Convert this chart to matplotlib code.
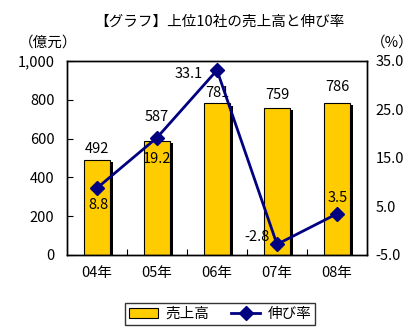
import numpy as np
import matplotlib
matplotlib.use("Agg")
import matplotlib.pyplot as plt
import matplotlib.patheffects as pe
from matplotlib.lines import Line2D
from matplotlib.patches import Patch

plt.rcParams['font.family'] = ['Noto Sans CJK JP', 'DejaVu Sans']

years = ['04年', '05年', '06年', '07年', '08年']
sales = [492, 587, 781, 759, 786]          # 億元
growth = [8.8, 19.2, 33.1, -2.8, 3.5]      # %
# label offsets (pixels)
sales_off = [11, 24, 10, 13, 16]
growth_off = [(1, -17), (0, -21), (-28, -4), (-20, 7), (1, 16)]

W, H = 419, 333
fig = plt.figure(figsize=(W / 100, H / 100), dpi=100)
ax = fig.add_axes([67 / W, 1 - 255 / H, 300 / W, 194 / H])
ax2 = ax.twinx()

x = np.arange(len(years))
bars = ax.bar(x, sales, width=0.42, color='#FFCC00', edgecolor='black', linewidth=0.8,
              zorder=2)
for b in bars:
    b.set_path_effects([pe.SimplePatchShadow(offset=(2.2, -1.5), shadow_rgbFace='black', alpha=1),
                        pe.Normal()])
for xi, v, off in zip(x, sales, sales_off):
    ax.annotate(str(v), (xi, v), xytext=(0, off), textcoords='offset pixels',
                ha='center', va='center', fontsize=10.5)

ax.set_xlim(-0.5, 4.5)
ax.set_ylim(0, 1000)
ax.set_yticks(range(0, 1001, 200))
ax.set_yticklabels([f'{v:,}' for v in range(0, 1001, 200)], fontsize=10.5)
ax.set_xticks(x)
ax.set_xticklabels(years, fontsize=10.5)
ax.set_xticks(np.arange(0.5, 4.5, 1), minor=True)
ax.tick_params(axis='x', which='major', length=0, pad=8)
ax.tick_params(axis='x', which='minor', direction='in', length=4, width=0.8)
ax.tick_params(axis='y', direction='in', length=4, width=0.8, pad=9)

ax2.plot(x, growth, color='#000080', linewidth=2, marker='D', markersize=7, zorder=3)
for xi, v, off in zip(x, growth, growth_off):
    ax2.annotate(f'{v:.1f}', (xi, v), xytext=off, textcoords='offset pixels',
                 ha='center', va='center', fontsize=10.5)
ax2.set_ylim(-5, 35)
ax2.set_yticks(np.arange(-5, 36, 10))
ax2.set_yticklabels([f'{v:.1f}' for v in np.arange(-5, 36, 10)], fontsize=10.5)
ax2.tick_params(axis='y', direction='in', length=0, pad=6)

for a in (ax, ax2):
    for s in a.spines.values():
        s.set_linewidth(1)
ax.set_zorder(1)
ax2.set_zorder(2)
ax2.patch.set_visible(False)

fig.text(219 / W, 1 - 22 / H, '【グラフ】上位10社の売上高と伸び率', ha='center', va='center', fontsize=10.5)
fig.text(48 / W, 1 - 43 / H, '（億元）', ha='center', va='center', fontsize=10.5)
fig.text(392 / W, 1 - 43 / H, '（%）', ha='center', va='center', fontsize=10.5)

handles = [Patch(facecolor='#FFCC00', edgecolor='black', linewidth=0.8),
           Line2D([], [], color='#000080', linewidth=2, marker='D', markersize=7)]
leg = fig.legend(handles, ['売上高', '伸び率'], loc='center', ncol=2,
                 bbox_to_anchor=(220 / W, 1 - 314 / H), fontsize=10.5, frameon=True,
                 fancybox=False, edgecolor='black', handlelength=2.0, handletextpad=0.5,
                 columnspacing=1.5, borderpad=0.25)
leg.get_frame().set_linewidth(1)

fig.savefig('out.png', dpi=100)
